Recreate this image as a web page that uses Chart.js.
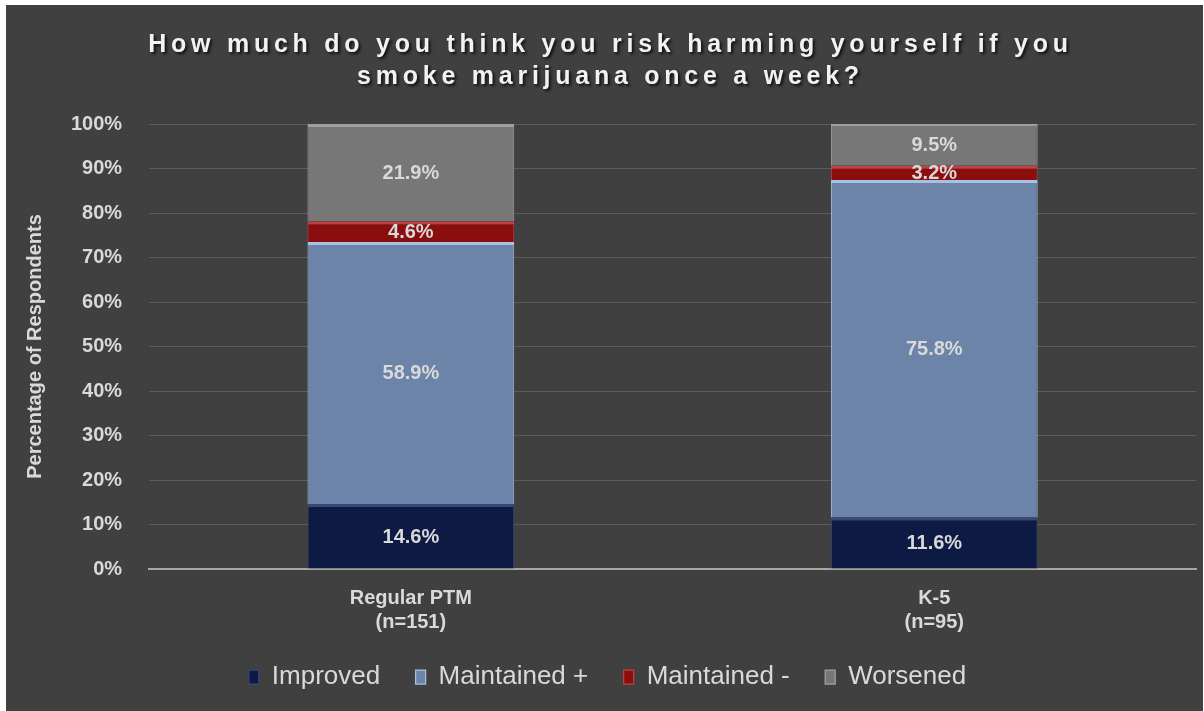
<!DOCTYPE html>
<html>
<head>
<meta charset="utf-8">
<title>Risk of harming yourself - marijuana once a week</title>
<script src="https://cdn.jsdelivr.net/npm/chart.js@4.4.1/dist/chart.umd.min.js"></script>
<style>
    body { margin: 0; background: #ffffff; }
    #wrap { position: absolute; left: 6px; top: 5px; width: 1197px; height: 706px; background: #404040; }
</style>
</head>
<body>
<div id="wrap"><canvas id="riskChart"></canvas></div>
<script>
const groups = [['Regular PTM', '(n=151)'], ['K-5', '(n=95)']];
const improved = [14.6, 11.6];
const maintainedPlus = [58.9, 75.8];
const maintainedMinus = [4.6, 3.2];
const worsened = [21.9, 9.5];
const yTicks = [0, 10, 20, 30, 40, 50, 60, 70, 80, 90, 100];

const textColor = '#d9d9d9';

// value labels in the middle of each stacked piece
const segmentLabels = {
    id: 'segmentLabels',
    afterDatasetsDraw(chart) {
        const ctx = chart.ctx;
        ctx.save();
        ctx.font = 'bold 20px "Liberation Sans", Arial, sans-serif';
        ctx.fillStyle = textColor;
        ctx.textAlign = 'center';
        ctx.textBaseline = 'middle';
        chart.data.datasets.forEach((ds, i) => {
            const meta = chart.getDatasetMeta(i);
            meta.data.forEach((bar, j) => {
                const p = bar.getProps(['x', 'y', 'base'], true);
                ctx.fillText(ds.data[j].toFixed(1) + '%', p.x, (p.y + p.base) / 2 + 1);
            });
        });
        ctx.restore();
    }
};

// spaced out title with a drop shadow, like the original
const spacedTitle = {
    id: 'spacedTitle',
    beforeDraw(chart) {
        const t = chart.titleBlock;
        if (!t || t._spaced) return;
        const draw = t.draw.bind(t);
        t.draw = function() {
            const ctx = chart.ctx;
            ctx.save();
            ctx.letterSpacing = '4.75px';
            ctx.shadowColor = 'rgba(0,0,0,0.75)';
            ctx.shadowOffsetX = 2;
            ctx.shadowOffsetY = 2;
            ctx.shadowBlur = 3;
            ctx.translate(3, 0);
            draw();
            ctx.restore();
        };
        t._spaced = true;
    }
};

const ctx = document.getElementById('riskChart').getContext('2d');
new Chart(ctx, {
    type: 'bar',
    data: {
        labels: groups,
        datasets: [
            {
                label: 'Improved',
                data: improved,
                backgroundColor: '#0d1b44',
                borderColor: '#34497a'
            },
            {
                label: 'Maintained +',
                data: maintainedPlus,
                backgroundColor: '#6c84a7',
                borderColor: '#a9c0e0'
            },
            {
                label: 'Maintained -',
                data: maintainedMinus,
                backgroundColor: '#8a0e0e',
                borderColor: '#c24040'
            },
            {
                label: 'Worsened',
                data: worsened,
                backgroundColor: '#777777',
                borderColor: '#a0a0a0'
            }
        ]
    },
    options: {
        responsive: true,
        maintainAspectRatio: false,
        animation: false,
        datasets: {
            bar: {
                categoryPercentage: 1,
                barPercentage: 0.395,
                borderWidth: { top: 3, left: 1, right: 1, bottom: 0 },
                borderSkipped: false
            }
        },
        layout: {
            padding: { left: 13, right: 7, top: 0, bottom: 11 }
        },
        plugins: {
            tooltip: { enabled: false },
            title: {
                display: true,
                text: ['How much do you think you risk harming yourself if you', 'smoke marijuana once a week?'],
                color: '#f2f2f2',
                font: { family: '"Liberation Sans", Arial, sans-serif', size: 25, weight: 'bold', lineHeight: 1.28 },
                padding: { top: 24, bottom: 31 }
            },
            legend: {
                position: 'bottom',
                labels: {
                    color: textColor,
                    font: { family: '"Liberation Sans", Arial, sans-serif', size: 26 },
                    boxWidth: 10,
                    boxHeight: 14,
                    padding: 21,
                    // a bit more room between items than above them
                    generateLabels(chart) {
                        const items = Chart.defaults.plugins.legend.labels.generateLabels(chart);
                        items.forEach((item, i) => {
                            if (i < items.length - 1) item.text += '  ';
                        });
                        return items;
                    }
                }
            }
        },
        scales: {
            x: {
                stacked: true,
                grid: { display: false },
                border: { color: '#a6a6a6', width: 2 },
                ticks: {
                    color: textColor,
                    font: { family: '"Liberation Sans", Arial, sans-serif', size: 20, weight: 'bold', lineHeight: 1.2 },
                    padding: 9
                }
            },
            y: {
                stacked: true,
                min: 0,
                max: 100,
                afterBuildTicks(scale) {
                    scale.ticks = yTicks.map(v => ({ value: v }));
                },
                grid: { color: '#5c5c5c', lineWidth: 1, drawTicks: false },
                border: { display: false },
                ticks: {
                    color: textColor,
                    font: { family: '"Liberation Sans", Arial, sans-serif', size: 20, weight: 'bold' },
                    padding: 27,
                    callback: v => v + '%'
                },
                title: {
                    display: true,
                    text: 'Percentage of Respondents',
                    color: textColor,
                    font: { family: '"Liberation Sans", Arial, sans-serif', size: 20, weight: 'bold' },
                    padding: { top: 4, bottom: -3 }
                }
            }
        }
    },
    plugins: [segmentLabels, spacedTitle]
});
</script>
</body>
</html>
